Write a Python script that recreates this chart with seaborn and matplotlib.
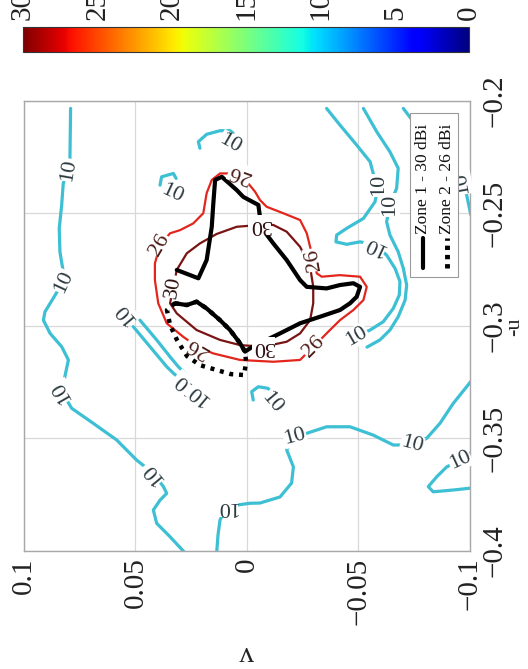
import matplotlib
matplotlib.use("Agg")
import matplotlib.pyplot as plt
import seaborn as sns
from matplotlib.colors import Normalize
from matplotlib.cm import ScalarMappable
from matplotlib.patches import Rectangle

# ---------------- data (v, -u) ----------------
v_ticks = [0.1, 0.05, 0, -0.05, -0.1]
v_tick_labels = ["0.1", "0.05", "0", "\u22120.05", "\u22120.1"]
u_ticks = [-0.4, -0.35, -0.3, -0.25, -0.2]
u_tick_labels = ["\u22120.4", "\u22120.35", "\u22120.3", "\u22120.25", "\u22120.2"]
cbar_ticks = [0, 5, 10, 15, 20, 25, 30]
cbar_labels = ["0", "5", "10", "15", "20", "25", "30"]
legend_labels = ["Zone 1 - 30 dBi", "Zone 2 - 26 dBi"]

# level 10 contour pieces
c10_left_v = [0.0791, 0.0794, 0.0801, 0.0824, 0.0831, 0.0842, 0.0839, 0.0824, 0.0824, 0.0869, 0.0906, 0.0913,
              0.0883, 0.0831, 0.0801, 0.0831, 0.0786, 0.0689, 0.0584, 0.0495, 0.0420, 0.0375, 0.0360, 0.0390,
              0.0420, 0.0405, 0.0345, 0.0283]
c10_left_u = [-0.2035, -0.2257, -0.2309, -0.2368, -0.2464, -0.2568, -0.2672, -0.2761, -0.2805, -0.2879, -0.2939,
              -0.2976, -0.3035, -0.3094, -0.3153, -0.3294, -0.3368, -0.3435, -0.3509, -0.3598, -0.3657, -0.3716,
              -0.3746, -0.3776, -0.3820, -0.3879, -0.3939, -0.4005]
c10_bottom_v = [0.0136, 0.0130, 0.0121, 0.0090, 0.0045, -0.0013, -0.0058, -0.0148, -0.0200, -0.0208, -0.0178,
                -0.0215, -0.0268, -0.0357, -0.0462, -0.0566, -0.0656, -0.0739, -0.0806, -0.0865, -0.0925,
                -0.0985, -0.1009]
c10_bottom_u = [-0.4010, -0.3931, -0.3864, -0.3806, -0.3798, -0.3790, -0.3789, -0.3762, -0.3700, -0.3628, -0.3553,
                -0.3494, -0.3479, -0.3450, -0.3450, -0.3487, -0.3531, -0.3531, -0.3501, -0.3435, -0.3346,
                -0.3272, -0.3242]
c10_hook_v = [-0.1009, -0.0955, -0.0896, -0.0851, -0.0813, -0.0835, -0.0925, -0.1009]
c10_hook_u = [-0.3562, -0.3598, -0.3628, -0.3672, -0.3716, -0.3739, -0.3731, -0.3722]
c10_small_v = [-0.0028, -0.0021, -0.0051, -0.0094, -0.0121]
c10_small_u = [-0.3331, -0.3294, -0.3272, -0.3279, -0.3309]
c10_e_v = [0.0390, 0.0383, 0.0330, 0.0318]
c10_e_u = [-0.2376, -0.2339, -0.2324, -0.2346]
c10_f_v = [0.0211, 0.0218, 0.0181, 0.0121, 0.0076, 0.0063]
c10_f_u = [-0.2212, -0.2183, -0.2150, -0.2134, -0.2134, -0.2144]
c10_g1_v = [0.0510, 0.0435, 0.0360, 0.0330, 0.0300]
c10_g1_u = [-0.3005, -0.3094, -0.3183, -0.3212, -0.3238]
c10_g2_v = [0.0480, 0.0405, 0.0345, 0.0308, 0.0274]
c10_g2_u = [-0.2976, -0.3064, -0.3139, -0.3183, -0.3216]
c10_r1_v = [-0.0357, -0.0417, -0.0492, -0.0552, -0.0566, -0.0589, -0.0574, -0.0522, -0.0447, -0.0402, -0.0399,
            -0.0447, -0.0507, -0.0574, -0.0626, -0.0664, -0.0686, -0.0683, -0.0656, -0.0611, -0.0552, -0.0492]
c10_r1_u = [-0.2035, -0.2109, -0.2198, -0.2272, -0.2324, -0.2376, -0.2450, -0.2524, -0.2568, -0.2598, -0.2628,
            -0.2639, -0.2628, -0.2642, -0.2687, -0.2746, -0.2805, -0.2864, -0.2924, -0.2983, -0.3020, -0.3047]
c10_r2_v = [-0.0522, -0.0582, -0.0641, -0.0678, -0.0671, -0.0641, -0.0626, -0.0641, -0.0678, -0.0701, -0.0716,
            -0.0709, -0.0678, -0.0641, -0.0596, -0.0538]
c10_r2_u = [-0.2035, -0.2139, -0.2228, -0.2301, -0.2390, -0.2464, -0.2539, -0.2598, -0.2672, -0.2746, -0.2820,
            -0.2887, -0.2961, -0.3020, -0.3064, -0.3096]
c10_r3_v = [-0.0701, -0.0746, -0.0821, -0.0910, -0.0964, -0.0985, -0.1004]
c10_r3_u = [-0.2035, -0.2094, -0.2198, -0.2287, -0.2367, -0.2420, -0.2509]

# level 26 contour (closed)
c26_v = [0.0031, -0.0036, -0.0058, -0.0088, -0.0163, -0.0238, -0.0268, -0.0283, -0.0297, -0.0313, -0.0335,
         -0.0417, -0.0507, -0.0537, -0.0522, -0.0477, -0.0417, -0.0372, -0.0342, -0.0297, -0.0238, -0.0118,
         0.0031, 0.0151, 0.0220, 0.0286, 0.0360, 0.0398, 0.0413, 0.0413, 0.0390, 0.0345, 0.0300, 0.0241,
         0.0196, 0.0181, 0.0158, 0.0121, 0.0031]
c26_u = [-0.2324, -0.2405, -0.2442, -0.2472, -0.2501, -0.2531, -0.2590, -0.2650, -0.2709, -0.2768, -0.2783,
         -0.2776, -0.2783, -0.2828, -0.2887, -0.2931, -0.2976, -0.3020, -0.3050, -0.3094, -0.3153, -0.3161,
         -0.3153, -0.3124, -0.3096, -0.3050, -0.2990, -0.2901, -0.2798, -0.2724, -0.2642, -0.2590, -0.2576,
         -0.2546, -0.2501, -0.2412, -0.2353, -0.2324, -0.2324]

# level 30 contour (closed)
c30_v = [-0.0058, -0.0118, -0.0178, -0.0238, -0.0283, -0.0297, -0.0297, -0.0283, -0.0238, -0.0178, -0.0073,
         0.0031, 0.0121, 0.0226, 0.0315, 0.0345, 0.0330, 0.0315, 0.0270, 0.0211, 0.0136, 0.0046, -0.0058]
c30_u = [-0.2553, -0.2553, -0.2583, -0.2650, -0.2739, -0.2828, -0.2901, -0.2976, -0.3035, -0.3072, -0.3094,
         -0.3087, -0.3064, -0.3020, -0.2946, -0.2901, -0.2828, -0.2753, -0.2679, -0.2635, -0.2593, -0.2561,
         -0.2553]

# zone outlines
zone1_v = [0.0315, 0.0218, 0.0181, 0.0158, 0.0151, 0.0143, 0.0113, 0.0046, 0.0017, -0.0051, -0.0058, -0.0073,
           -0.0118, -0.0178, -0.0238, -0.0268, -0.0357, -0.0417, -0.0477, -0.0507, -0.0492, -0.0462, -0.0417,
           -0.0327, -0.0238, -0.0148, -0.0088, -0.0036, 0.0009, 0.0031, 0.0076, 0.0121, 0.0181, 0.0226,
           0.0270, 0.0323]
zone1_u = [-0.2753, -0.2790, -0.2709, -0.2561, -0.2457, -0.2353, -0.2339, -0.2398, -0.2428, -0.2464, -0.2516,
           -0.2576, -0.2635, -0.2709, -0.2798, -0.2828, -0.2835, -0.2820, -0.2812, -0.2828, -0.2872, -0.2901,
           -0.2931, -0.2961, -0.2990, -0.3035, -0.3064, -0.3087, -0.3116, -0.3079, -0.3020, -0.2976, -0.2924,
           -0.2894, -0.2909, -0.2901]
zone2_v = [0.0323, 0.0270, 0.0226, 0.0181, 0.0121, 0.0076, 0.0031, 0.0009, 0.0004, 0.0013, 0.0072, 0.0135,
           0.0211, 0.0269, 0.0314, 0.0345, 0.0359, 0.0318]
zone2_u = [-0.2901, -0.2909, -0.2894, -0.2924, -0.2976, -0.3020, -0.3079, -0.3116, -0.3162, -0.3220, -0.3216,
           -0.3198, -0.3176, -0.3136, -0.3064, -0.2998, -0.2931, -0.2896]

# contour labels: v, -u, angle
labels10_v = [0.0801, 0.0824, 0.0831, 0.0420, 0.0090, -0.0215, -0.0739, -0.0955, -0.0112, 0.0338, 0.0076,
              0.0547, 0.0280, 0.0215, -0.0589, -0.0574, -0.0492, -0.0641, -0.0964]
labels10_u = [-0.2309, -0.2805, -0.3294, -0.3657, -0.3806, -0.3494, -0.3531, -0.3598, -0.3344, -0.2412, -0.2190,
              -0.2946, -0.3258, -0.3306, -0.2376, -0.2642, -0.3047, -0.2464, -0.2367]
labels10_rot = [80, 65, 120, 130, 180, 15, -15, 25, -50, -25, -30, 130, 140, 140, 90, 155, 30, 90, 100]
labels26_v = [0.0031, -0.0297, -0.0297, 0.0220, 0.0390]
labels26_u = [-0.2324, -0.2709, -0.3094, -0.3096, -0.2642]
labels26_rot = [160, 100, 45, 150, 60]
labels30_v = [-0.0058, 0.0330, -0.0073]
labels30_u = [-0.2553, -0.2828, -0.3094]
labels30_rot = [180, 80, 180]

# ---------------- drawing ----------------
sns.set_theme(style="whitegrid")
plt.rcParams["font.family"] = ["Liberation Serif", "DejaVu Serif"]
plt.rcParams["axes.unicode_minus"] = True

cmap = plt.get_cmap("jet")
norm = Normalize(0, 30)
col10, col26, col30 = "#3dbfd4", "#e3261c", "#7a1414"

fig = plt.figure(figsize=(5.28, 6.69), dpi=100)
ax = fig.add_axes([0.04545, 0.1771, 0.8447, 0.6726])


def draw(v, u, color, lw, ls="-", z=2):
    sns.lineplot(x=v, y=u, sort=False, estimator=None, color=color, linewidth=lw,
                 linestyle=ls, legend=False, ax=ax, zorder=z)


for v, u in [(c10_left_v, c10_left_u), (c10_bottom_v, c10_bottom_u), (c10_hook_v, c10_hook_u),
             (c10_small_v, c10_small_u), (c10_e_v, c10_e_u), (c10_f_v, c10_f_u),
             (c10_g1_v, c10_g1_u), (c10_g2_v, c10_g2_u), (c10_r1_v, c10_r1_u),
             (c10_r2_v, c10_r2_u), (c10_r3_v, c10_r3_u)]:
    draw(v, u, col10, 2.3)
draw(c26_v, c26_u, col26, 1.6)
draw(c30_v, c30_u, col30, 1.6)
draw(zone1_v, zone1_u, "black", 3.0, "-", 4)
draw(zone2_v, zone2_u, "black", 3.2, (0, (0.9, 1.3)), 4)

lab_font = 16
for vs, us, rots, txt, tc in [(labels10_v, labels10_u, labels10_rot, "10", "#2d3b40"),
                              (labels26_v, labels26_u, labels26_rot, "26", "#4a1a16"),
                              (labels30_v, labels30_u, labels30_rot, "30", "#2e1010")]:
    for v, u, r in zip(vs, us, rots):
        ax.text(v, u, txt, rotation=r, rotation_mode="anchor", ha="center", va="center",
                fontsize=lab_font, color=tc, zorder=5,
                bbox=dict(boxstyle="square,pad=0.02", fc="white", ec="none"))

ax.set_xlim(0.1, -0.1)
ax.set_ylim(-0.4, -0.2)
ax.set_xticks(v_ticks)
ax.set_xticklabels(v_tick_labels, rotation=90, va="top", ha="center")
ax.yaxis.tick_right()
ax.set_yticks(u_ticks)
ax.set_yticklabels(u_tick_labels, rotation=90, va="center", ha="left")
ax.tick_params(axis="x", pad=5, labelsize=21, length=0, colors="#222222")
ax.tick_params(axis="y", pad=8, labelsize=21, length=0, colors="#222222")
ax.grid(True, color="#d8d8d8", lw=0.9)
for s in ax.spines.values():
    s.set_color("#a8a8a8")
    s.set_linewidth(1.0)

ax.set_xlabel("v", fontsize=21, rotation=180, color="#222222")
ax.xaxis.set_label_coords(0.5, -0.228)
ax.xaxis.label.set_va("center")
ax.set_ylabel("-u", fontsize=16, rotation=90, color="#222222")
ax.yaxis.set_label_position("right")
ax.yaxis.set_label_coords(1.101, 0.497)
ax.yaxis.label.set_va("center")
ax.yaxis.label.set_ha("center")

# rotated legend (drawn by hand)
ax.add_patch(Rectangle((0.8655, 0.608), 0.1075, 0.364, transform=ax.transAxes, fc="white",
                       ec="#9a9a9a", lw=0.8, zorder=10))
ax.plot([0.8946, 0.8946], [0.628, 0.694], transform=ax.transAxes, color="black", lw=3, zorder=11)
ax.plot([0.948, 0.948], [0.628, 0.694], transform=ax.transAxes, color="black", lw=3.5,
        ls=(0, (0.9, 1.0)), zorder=11)
ax.text(0.8946, 0.703, legend_labels[0], rotation=90, transform=ax.transAxes, ha="center",
        va="bottom", fontsize=12.5, zorder=11, color="#111111")
ax.text(0.948, 0.703, legend_labels[1], rotation=90, transform=ax.transAxes, ha="center",
        va="bottom", fontsize=12.5, zorder=11, color="#111111")

# colour bar on top, reversed
cax = fig.add_axes([0.0436, 0.9223, 0.8447, 0.0374])
sm = ScalarMappable(norm=norm, cmap=cmap)
cb = fig.colorbar(sm, cax=cax, orientation="horizontal", ticks=cbar_ticks)
cax.invert_xaxis()
cax.xaxis.set_ticks_position("top")
cax.set_xticks(cbar_ticks)
cax.set_xticklabels(cbar_labels, rotation=90, va="bottom", ha="center")
cax.tick_params(length=0, pad=5, labelsize=21, colors="#222222")
cb.outline.set_linewidth(0.8)
cb.outline.set_edgecolor("#333333")

fig.savefig("out.png", dpi=100)
